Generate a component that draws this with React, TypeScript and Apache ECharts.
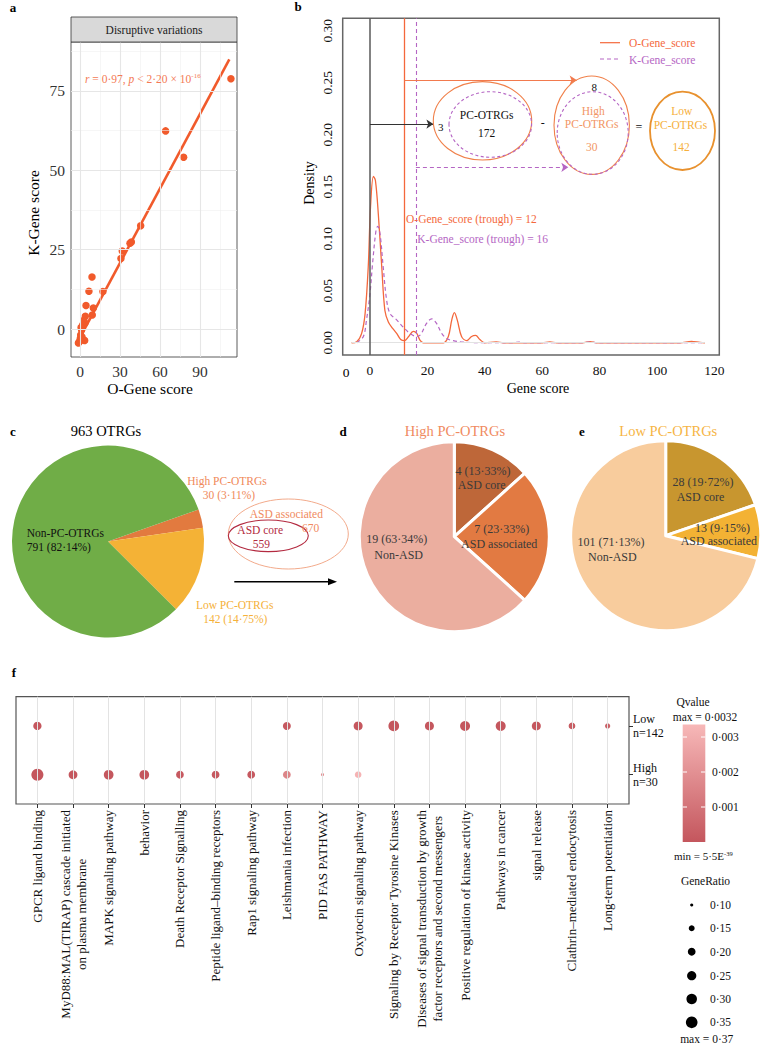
import React, { useEffect, useRef } from 'react';
import * as echarts from 'echarts';

const SERIF = "'Liberation Serif', 'Times New Roman', Times, serif";

// ---------- Panel a: O-Gene vs K-Gene scores ----------
const aOGeneScore = [113.2, 64.2, 77.7, 45.5, 38.5, 37.5, 31.7, 30.7, 17.2, 9.0, 6.7, 4.5, 10.0, 9.2, 4.0, 3.7, 2.8, 2.0, 1.2, 0.5, -0.5, -1.2, 2.5, 3.5, 0.8, 1.5, 0.2];
const aKGeneScore = [78.8, 62.4, 54.1, 32.5, 27.4, 27.0, 24.6, 22.2, 11.8, 16.4, 11.9, 7.4, 6.6, 4.4, 4.0, 1.9, 2.8, 1.3, -0.3, -1.9, -4.0, -4.4, -3.4, -3.6, 0.5, -2.5, -3.0];
const aFitIntercept = -2.66;
const aFitSlope = 0.782;
const aFitXRange = [-1, 112];
const aXTicks = [0, 30, 60, 90];
const aYTicks = [0, 25, 50, 75];
const aXMinor = [15, 45, 75, 105];
const aYMinor = [12.5, 37.5, 62.5, 87.5];

// ---------- Panel b: density curves ----------
const bOGeneX = [-6.4, -4.6, -2.9, -1.7, -0.6, 0.2, 1.2, 1.9, 2.9, 4.1, 5.2, 6.4, 7.9, 9.3, 10.7, 12, 13.4, 15.1, 16.3, 17.4, 18.6, 25.6, 27.3, 28.5, 29.4, 30.4, 31.9, 33.7, 35.4, 36.8, 38.3, 40, 44, 46.5, 60, 62.7, 65, 74, 76.7, 79, 108, 112, 115, 116.7];
const bOGeneY = [0, 0.001, 0.009, 0.028, 0.073, 0.131, 0.16, 0.156, 0.124, 0.073, 0.031, 0.02, 0.0138, 0.009, 0.0032, 0.002, 0.0058, 0.011, 0.009, 0.0026, 0, 0, 0.006, 0.022, 0.029, 0.022, 0.006, 0.002, 0.006, 0.007, 0.003, 0, 0.0007, 0, 0, 0.0007, 0, 0, 0.001, 0, 0, 0.0013, 0.0003, 0];
const bKGeneX = [-4.6, -2.3, -1.2, 0, 0.9, 2.1, 2.7, 3.5, 4.6, 5.8, 7, 9.3, 11.6, 13.9, 16.3, 17.7, 19.7, 21.5, 23.2, 25, 26.7, 29, 32.5, 39.5, 50, 52, 54, 74, 76.7, 79, 116];
const bKGeneY = [0, 0.006, 0.022, 0.047, 0.076, 0.108, 0.112, 0.105, 0.073, 0.041, 0.028, 0.022, 0.015, 0.009, 0.006, 0.008, 0.0186, 0.023, 0.0186, 0.009, 0.004, 0.002, 0.0006, 0, 0, 0.0006, 0, 0, 0.0006, 0, 0];
const bXTicks = [0, 20, 40, 60, 80, 100, 120];
const bYTicks = [0, 0.05, 0.1, 0.15, 0.2, 0.25, 0.3];
const bTroughO = 12;
const bTroughK = 16;
const bOnlyO = 3;
const bOnlyHighO = 8;

// ---------- Panels c, d, e: pies ----------
const cNames = ['High PC-OTRGs', 'Low PC-OTRGs', 'Non-PC-OTRGs'];
const cValues = [30, 142, 791];
const cPct = ['3·11%', '14·75%', '82·14%'];
const asdNames = ['ASD core', 'ASD associated', 'Non-ASD'];
const dValues = [4, 7, 19];
const dPct = ['13·33%', '23·33%', '63·34%'];
const eValues = [28, 13, 101];
const ePct = ['19·72%', '9·15%', '71·13%'];
const asdCore = 559;
const asdAssociated = 670;

// ---------- Panel f: enrichment dots ----------
const fCategories = [
  'GPCR ligand binding',
  'MyD88:MAL(TIRAP) cascade initiated\non plasma membrane',
  'MAPK signaling pathway',
  'behavior',
  'Death Receptor Signalling',
  'Peptide ligand\u2013binding receptors',
  'Rap1 signaling pathway',
  'Leishmania infection',
  'PID FAS PATHWAY',
  'Oxytocin signaling pathway',
  'Signaling by Receptor Tyrosine Kinases',
  'Diseases of signal transduction by growth\nfactor receptors and second messengers',
  'Positive regulation of kinase activity',
  'Pathways in cancer',
  'signal release',
  'Clathrin\u2013mediated endocytosis',
  'Long-term potentiation',
];
const fRowNames = ['High', 'Low'];
const fRowN = [30, 142];
const fHighRatio = [0.367, 0.233, 0.267, 0.267, 0.2, 0.2, 0.2, 0.2, 0.1, 0.167, null, null, null, null, null, null, null];
const fHighQ = [0.00001, 0.00005, 0.00003, 0.00003, 0.0001, 0.0001, 0.0001, 0.0016, 0.002, 0.0032, null, null, null, null, null, null, null];
const fLowRatio = [0.217, null, null, null, null, null, null, 0.207, null, 0.241, 0.307, 0.241, 0.278, 0.278, 0.241, 0.169, 0.136];
const fLowQ = [0.00005, null, null, null, null, null, null, 0.0001, null, 0.00005, 0.00001, 0.00002, 0.00002, 0.00003, 0.00005, 0.0002, 0.0004];
const fQMax = 0.00336;
const fQTicks = [0.001, 0.002, 0.003];
const fSizeLegend = [0.1, 0.15, 0.2, 0.25, 0.3, 0.35];

const Q_DARK = '#C4565D';
const Q_LIGHT = '#F7B8B8';

const ratioToSize = (r: number) => Math.sqrt(504 * Math.max(r - 0.08, 0.001));
const qToY = (q: number) => 842 - q * 35000;

function T(text: string, x: number, y: number, o: any = {}) {
  return {
    type: 'text', x, y, z: 100, silent: true, rotation: o.rotation || 0,
    style: {
      text, fill: o.color || '#111', fontSize: o.size || 12, fontFamily: SERIF,
      fontWeight: o.weight || 'normal', fontStyle: o.fstyle || 'normal',
      align: o.align || 'center', verticalAlign: o.valign || 'middle',
      textAlign: o.align || 'center', textVerticalAlign: o.valign || 'middle',
      rich: o.rich, lineHeight: o.lineHeight,
    },
  };
}
function E(cx: number, cy: number, rx: number, ry: number, stroke: string, lw: number, dash?: number[]) {
  return { type: 'ellipse', z: 99, silent: true, shape: { cx, cy, rx, ry }, style: { fill: 'none', stroke, lineWidth: lw, lineDash: dash || null } };
}
function L(x1: number, y1: number, x2: number, y2: number, stroke: string, lw: number, dash?: number[]) {
  return { type: 'line', z: 99, silent: true, shape: { x1, y1, x2, y2 }, style: { stroke, lineWidth: lw, lineDash: dash || null } };
}

function buildOption() {
  const sum = (a: number[]) => a.reduce((s, v) => s + v, 0);
  const gl = (color: string, width: number) => ({ color, width, type: 'solid' as const });

  const series: any[] = [];
  // a gridlines
  series.push({
    type: 'line', xAxisIndex: 0, yAxisIndex: 0, data: [], z: 1, silent: true,
    markLine: {
      silent: true, symbol: ['none', 'none'], label: { show: false }, animation: false,
      data: [
        ...aXMinor.map((v) => ({ xAxis: v, lineStyle: gl('#F0F0F0', 0.6) })),
        ...aYMinor.map((v) => ({ yAxis: v, lineStyle: gl('#F0F0F0', 0.6) })),
        ...aXTicks.map((v) => ({ xAxis: v, lineStyle: gl('#E6E6E6', 1.1) })),
        ...aYTicks.map((v) => ({ yAxis: v, lineStyle: gl('#E6E6E6', 1.1) })),
      ],
    },
  });
  // a fit line
  series.push({
    type: 'line', xAxisIndex: 0, yAxisIndex: 0, z: 3, silent: true, showSymbol: false,
    data: aFitXRange.map((x) => [x, aFitIntercept + aFitSlope * x]),
    lineStyle: { color: '#F15A2B', width: 2.6 },
  });
  // a scatter
  series.push({
    type: 'scatter', xAxisIndex: 0, yAxisIndex: 0, z: 4, silent: true, symbolSize: 7.5,
    data: aOGeneScore.map((x, i) => [x, aKGeneScore[i]]),
    itemStyle: { color: '#F15A2B', opacity: 1 },
  });
  // b annotation lines
  series.push({
    type: 'line', xAxisIndex: 1, yAxisIndex: 1, data: [], z: 2, silent: true,
    markLine: {
      silent: true, symbol: ['none', 'none'], label: { show: false }, animation: false,
      data: [
        [{ coord: [bOGeneX[0], 0], lineStyle: gl('#E2E2E2', 1) }, { coord: [bOGeneX[bOGeneX.length - 1], 0] }],
        { xAxis: 0, lineStyle: gl('#5A5A5A', 1.5) },
        { xAxis: bTroughO, lineStyle: gl('#F4683C', 1.3) },
        { xAxis: bTroughK, lineStyle: { color: '#B566C4', width: 1.1, type: [4, 3] } },
        [{ coord: [0, 0.2103], symbol: 'none', lineStyle: gl('#333', 1.1) }, { coord: [22.1, 0.2103], symbol: 'arrow', symbolSize: 7 }],
        [{ coord: [bTroughO, 0.2526], symbol: 'none', lineStyle: gl('#F27A4E', 1.1) }, { coord: [72.0, 0.2526], symbol: 'arrow', symbolSize: 7 }],
        [{ coord: [bTroughK, 0.1687], symbol: 'none', lineStyle: { color: '#B566C4', width: 1.1, type: [4, 3] } }, { coord: [69.1, 0.1687], symbol: 'arrow', symbolSize: 7 }],
      ],
    },
  });
  series.push({
    type: 'line', xAxisIndex: 1, yAxisIndex: 1, z: 3, silent: true, showSymbol: false, smooth: 0.35,
    data: bOGeneX.map((x, i) => [x, bOGeneY[i]]),
    lineStyle: { color: '#F4683C', width: 1.3 },
  });
  series.push({
    type: 'line', xAxisIndex: 1, yAxisIndex: 1, z: 3, silent: true, showSymbol: false, smooth: 0.35,
    data: bKGeneX.map((x, i) => [x, bKGeneY[i]]),
    lineStyle: { color: '#B566C4', width: 1.2, type: [4, 3] },
  });
  // pies
  const pieBase = { type: 'pie', silent: true, clockwise: true, label: { show: false }, labelLine: { show: false }, z: 2 };
  const cColors = ['#E27A3F', '#F4B236', '#70AD47'];
  series.push({
    ...pieBase, center: [108, 541.5], radius: 96, startAngle: 19.4,
    data: cNames.map((n, i) => ({ name: n, value: cValues[i], itemStyle: { color: cColors[i] } })),
  });
  const dColors = ['#BE6739', '#E27A42', '#EBAE9F'];
  series.push({
    ...pieBase, center: [454.3, 536.7], radius: 95, startAngle: 90,
    data: asdNames.map((n, i) => ({ name: n, value: dValues[i], itemStyle: { color: dColors[i], borderColor: '#fff', borderWidth: 3 } })),
  });
  const eColors = ['#C8962F', '#F3B234', '#F8CC9D'];
  series.push({
    ...pieBase, center: [665.7, 535.7], radius: 95, startAngle: 90,
    data: asdNames.map((n, i) => ({ name: n, value: eValues[i], itemStyle: { color: eColors[i], borderColor: '#fff', borderWidth: 3 } })),
  });
  // f gridlines
  series.push({
    type: 'line', xAxisIndex: 2, yAxisIndex: 2, data: [], z: 1, silent: true,
    markLine: {
      silent: true, symbol: ['none', 'none'], label: { show: false }, animation: false,
      data: fCategories.map((_, i) => ({ xAxis: i + 1, lineStyle: gl('#E3E3E3', 1) })),
    },
  });
  const fData: number[][] = [];
  fCategories.forEach((_, i) => {
    if (fHighRatio[i] != null) fData.push([i + 1, 1, fHighQ[i] as number, fHighRatio[i] as number]);
    if (fLowRatio[i] != null) fData.push([i + 1, 2, fLowQ[i] as number, fLowRatio[i] as number]);
  });
  const fSeriesIndex = series.length;
  series.push({
    type: 'scatter', xAxisIndex: 2, yAxisIndex: 2, z: 4, silent: true,
    data: fData, symbolSize: (v: number[]) => ratioToSize(v[3]),
    itemStyle: { opacity: 1 },
  });

  const axisCommon = {
    type: 'value', axisLine: { show: false }, splitLine: { show: false },
  };

  const graphic: any[] = [];
  // panel letters
  [['a', 13, 7], ['b', 298, 6], ['c', 13, 431], ['d', 343, 431], ['e', 582, 431], ['f', 14, 672]].forEach(([t, x, y]) =>
    graphic.push(T(t as string, x as number, y as number, { size: 13, weight: 'bold', color: '#000' })));

  // ---- a ----
  graphic.push({ type: 'rect', z: 99, silent: true, shape: { x: 71, y: 17, width: 166, height: 25 }, style: { fill: '#D9D9D9', stroke: '#333', lineWidth: 0.8 } });
  graphic.push(T('Disruptive variations', 154, 29.5, { size: 11.5, color: '#1A1A1A' }));
  graphic.push(T('{i|r} = 0·97, {i|p} < 2·20 × 10{s|-16}', 85, 78.5, {
    align: 'left', size: 11.5, color: '#F47A55',
    rich: {
      i: { fontStyle: 'italic', fontSize: 11.5, fontFamily: SERIF, fill: '#F47A55', color: '#F47A55' },
      s: { fontSize: 7, fontFamily: SERIF, fill: '#F47A55', color: '#F47A55', verticalAlign: 'top' },
    },
  }));
  graphic.push(T('K-Gene score', 33.5, 213, { size: 15.5, rotation: Math.PI / 2, color: '#000' }));
  graphic.push(T('O-Gene score', 150, 388, { size: 15.5, color: '#000' }));

  // ---- b ----
  graphic.push(T('Density', 309, 183, { size: 14, rotation: Math.PI / 2, color: '#000' }));
  graphic.push(T('Gene score', 538, 388, { size: 14, color: '#000' }));
  graphic.push(T('0', 346, 372, { size: 13.5, color: '#000' }));
  graphic.push(L(600, 42.7, 620, 42.7, '#F4683C', 1.2));
  graphic.push(L(600, 59, 620, 59, '#B566C4', 1.2, [4, 3]));
  graphic.push(T('O-Gene_score', 629, 43, { size: 11.5, align: 'left', color: '#F4683C' }));
  graphic.push(T('K-Gene_score', 629, 59.5, { size: 11.5, align: 'left', color: '#B566C4' }));
  graphic.push(E(482.5, 120.8, 49.2, 39.2, '#F0804A', 1.1));
  graphic.push(E(490.3, 124.5, 41.3, 32.8, '#B566C4', 1.1, [3, 2.5]));
  graphic.push(E(591.7, 125.2, 37.7, 49.2, '#F0804A', 1.1));
  graphic.push(E(592.7, 133, 35.5, 41.3, '#B566C4', 1.1, [3, 2.5]));
  graphic.push(E(682.5, 130.8, 32.5, 39.2, '#E8912E', 1.8));
  graphic.push(T(String(bOnlyO), 440.7, 126.7, { size: 11, color: '#111' }));
  graphic.push(T('PC-OTRGs', 486.7, 115, { size: 11.5, color: '#111' }));
  graphic.push(T(String(cValues[0] + cValues[1]), 486.7, 132.7, { size: 11.5, color: '#111' }));
  graphic.push(T('-', 542.7, 123.3, { size: 12, color: '#111' }));
  graphic.push(T(String(bOnlyHighO), 594.3, 86.7, { size: 11, color: '#111' }));
  graphic.push(T('High', 593.3, 110.7, { size: 11.5, color: '#F29665' }));
  graphic.push(T('PC-OTRGs', 591.7, 124.3, { size: 11.5, color: '#F29665' }));
  graphic.push(T(String(cValues[0]), 591.7, 147.3, { size: 11.5, color: '#F29665' }));
  graphic.push(T('=', 639, 126.7, { size: 12, color: '#111' }));
  graphic.push(T('Low', 681.7, 111, { size: 11.5, color: '#F6B03C' }));
  graphic.push(T('PC-OTRGs', 680.5, 125, { size: 11.5, color: '#F6B03C' }));
  graphic.push(T(String(cValues[1]), 681, 147.3, { size: 11.5, color: '#F6B03C' }));
  graphic.push(T(`O-Gene_score (trough) = ${bTroughO}`, 406, 218.5, { size: 11.5, align: 'left', color: '#F4683C' }));
  graphic.push(T(`K-Gene_score (trough) = ${bTroughK}`, 417.3, 239.3, { size: 11.5, align: 'left', color: '#B566C4' }));

  // ---- c ----
  graphic.push(T(`${sum(cValues)} OTRGs`, 106, 431, { size: 14.5, color: '#000' }));
  graphic.push(T(cNames[0], 227, 481, { size: 11.5, color: '#F0895A' }));
  graphic.push(T(`${cValues[0]} (${cPct[0]})`, 229, 495, { size: 11.5, color: '#F0895A' }));
  graphic.push(T(cNames[1], 234.7, 605, { size: 11.5, color: '#F5B13A' }));
  graphic.push(T(`${cValues[1]} (${cPct[1]})`, 235.3, 619.3, { size: 11.5, color: '#F5B13A' }));
  graphic.push(T(cNames[2], 26.7, 532.7, { size: 11.5, align: 'left', color: '#111' }));
  graphic.push(T(`${cValues[2]} (${cPct[2]})`, 26.7, 546.7, { size: 11.5, align: 'left', color: '#111' }));
  graphic.push(E(288.3, 534, 60, 35, '#F0A07E', 0.9));
  graphic.push(E(268.3, 535.8, 40, 15.8, '#B32A40', 1.1));
  graphic.push(T(asdNames[1], 286.3, 514.3, { size: 11.5, color: '#F08A60' }));
  graphic.push(T(String(asdAssociated), 310.5, 527.7, { size: 11.5, color: '#F08A60' }));
  graphic.push(T(asdNames[0], 260.2, 530, { size: 11.5, color: '#B32A40' }));
  graphic.push(T(String(asdCore), 261.3, 544, { size: 11.5, color: '#B32A40' }));
  graphic.push(L(234.3, 581.7, 331, 581.7, '#000', 1.5));
  graphic.push({ type: 'polygon', z: 99, silent: true, shape: { points: [[337, 581.7], [328, 578.2], [328, 585.2]] }, style: { fill: '#000' } });

  // ---- d ----
  graphic.push(T(cNames[0], 455, 431, { size: 14.5, color: '#F08B5F' }));
  const dLab = '#3A3A3A';
  graphic.push(T(`${dValues[0]} (${dPct[0]})`, 483, 471, { size: 12, color: dLab }));
  graphic.push(T(asdNames[0], 481.7, 484.5, { size: 12, color: dLab }));
  graphic.push(T(`${dValues[1]} (${dPct[1]})`, 501.7, 529.3, { size: 12, color: dLab }));
  graphic.push(T(asdNames[1], 499.2, 544.3, { size: 12, color: dLab }));
  graphic.push(T(`${dValues[2]} (${dPct[2]})`, 396.7, 539.3, { size: 12, color: dLab }));
  graphic.push(T(asdNames[2], 398.7, 555, { size: 12, color: dLab }));

  // ---- e ----
  graphic.push(T(cNames[1], 668.3, 431, { size: 14.5, color: '#F6B545' }));
  graphic.push(T(`${eValues[0]} (${ePct[0]})`, 703, 482.3, { size: 12, color: dLab }));
  graphic.push(T(asdNames[0], 700.5, 496.7, { size: 12, color: dLab }));
  graphic.push(T(`${eValues[1]} (${ePct[1]})`, 722.5, 528.3, { size: 12, color: dLab }));
  graphic.push(T(asdNames[1], 718.8, 541, { size: 12, color: dLab }));
  graphic.push(T(`${eValues[2]} (${ePct[2]})`, 611, 542.3, { size: 12, color: dLab }));
  graphic.push(T(asdNames[2], 612.3, 556.7, { size: 12, color: dLab }));

  // ---- f legend ----
  graphic.push(T('Qvalue', 693, 702.3, { size: 11.5, color: '#111' }));
  graphic.push(T(`max = ${String(0.0032).replace('.', '·')}`, 705, 716.7, { size: 11.5, color: '#111' }));
  graphic.push({
    type: 'rect', z: 99, silent: true,
    shape: { x: 682.7, y: qToY(fQMax), width: 22.6, height: qToY(0) - qToY(fQMax) },
    style: { fill: { type: 'linear', x: 0, y: 0, x2: 0, y2: 1, colorStops: [{ offset: 0, color: Q_LIGHT }, { offset: 1, color: Q_DARK }] } },
  });
  fQTicks.forEach((q) => {
    const y = qToY(q);
    graphic.push(L(682.7, y, 687, y, '#fff', 1));
    graphic.push(L(701, y, 705.3, y, '#fff', 1));
    graphic.push(T(String(q).replace('.', '·'), 712, y, { size: 11.5, align: 'left', color: '#111' }));
  });
  graphic.push(T('min = 5·5E{s|-39}', 703.3, 855.7, {
    size: 11, color: '#111',
    rich: { s: { fontSize: 6.5, fontFamily: SERIF, fill: '#111', color: '#111', verticalAlign: 'top' } },
  }));
  graphic.push(T('GeneRatio', 705.5, 881, { size: 11.5, color: '#111' }));
  const legYs = [905, 928.3, 951.7, 975.7, 999, 1022.3];
  fSizeLegend.forEach((r, i) => {
    graphic.push({ type: 'circle', z: 99, silent: true, shape: { cx: 691.7, cy: legYs[i], r: ratioToSize(r) / 2 }, style: { fill: '#000' } });
    graphic.push(T(r.toFixed(2).replace('.', '·'), 710, legYs[i], { size: 11.5, align: 'left', color: '#111' }));
  });
  graphic.push(T(`max = ${(0.37).toFixed(2).replace('.', '·')}`, 706.7, 1039.3, { size: 11.5, color: '#111' }));

  return {
    animation: false,
    backgroundColor: '#fff',
    textStyle: { fontFamily: SERIF },
    grid: [
      { left: 71, top: 42, width: 166, height: 315, show: true, borderColor: '#333', borderWidth: 0.8, backgroundColor: 'transparent' },
      { left: 342.7, top: 18.3, width: 376.6, height: 336.7, show: true, borderColor: '#666', borderWidth: 1.5, backgroundColor: 'transparent' },
      { left: 16, top: 696.7, width: 613, height: 107.3, show: true, borderColor: '#555', borderWidth: 1.2, backgroundColor: 'transparent' },
    ],
    xAxis: [
      {
        ...axisCommon, gridIndex: 0, min: -6.75, max: 117.75,
        axisTick: { show: true, length: 4, customValues: aXTicks, lineStyle: { color: '#333' } },
        axisLabel: { customValues: aXTicks, margin: 6, fontSize: 15.5, color: '#333', fontFamily: SERIF },
      },
      {
        ...axisCommon, gridIndex: 1, min: -9.5, max: 121.7,
        axisTick: { show: false, customValues: bXTicks },
        axisLabel: { customValues: bXTicks, margin: 8, fontSize: 13.5, color: '#111', fontFamily: SERIF },
      },
      {
        ...axisCommon, gridIndex: 2, min: 0.4, max: 17.6,
        axisTick: { show: true, length: 4, customValues: fCategories.map((_, i) => i + 1), lineStyle: { color: '#333' } },
        axisLabel: {
          customValues: fCategories.map((_, i) => i + 1), rotate: 90, margin: 6, color: '#111', fontSize: 13, fontFamily: SERIF,
          formatter: (v: number) => fCategories[Math.round(v) - 1].split('\n').map((l) => `{c|${l}}`).join('\n'),
          rich: { c: { align: 'center', fontSize: 13, lineHeight: 16, fontFamily: SERIF, color: '#111' } },
        },
      },
    ],
    yAxis: [
      {
        ...axisCommon, gridIndex: 0, min: -8.8, max: 90.4,
        axisTick: { show: true, length: 4, customValues: aYTicks, lineStyle: { color: '#333' } },
        axisLabel: { customValues: aYTicks, margin: 6, fontSize: 15.5, color: '#333', fontFamily: SERIF },
      },
      {
        ...axisCommon, gridIndex: 1, min: -0.0118, max: 0.312,
        axisTick: { show: false, customValues: bYTicks },
        axisLabel: { customValues: bYTicks, rotate: 90, margin: 8, fontSize: 13.5, color: '#111', fontFamily: SERIF, formatter: (v: number) => v.toFixed(2) },
      },
      {
        ...axisCommon, gridIndex: 2, position: 'right', min: 0.4, max: 2.6,
        axisTick: { show: true, length: 4, customValues: [1, 2], lineStyle: { color: '#333' } },
        axisLabel: {
          customValues: [1, 2], margin: 4, fontSize: 12, lineHeight: 14, color: '#111', fontFamily: SERIF,
          formatter: (v: number) => `${fRowNames[Math.round(v) - 1]}\nn=${fRowN[Math.round(v) - 1]}`,
        },
      },
    ],
    visualMap: [{
      type: 'continuous', show: false, seriesIndex: fSeriesIndex, dimension: 2, min: 0, max: fQMax,
      inRange: { color: [Q_DARK, Q_LIGHT] },
    }],
    series,
    graphic: { elements: graphic },
  };
}

export default function App() {
  const ref = useRef<HTMLDivElement>(null);
  useEffect(() => {
    const chart = echarts.init(ref.current as HTMLDivElement, undefined, { renderer: 'svg', width: 763, height: 1052 });
    chart.setOption(buildOption() as any);
    return () => chart.dispose();
  }, []);
  return <div ref={ref} style={{ position: 'absolute', left: 0, top: 0, width: 763, height: 1052, background: '#fff' }} />;
}
